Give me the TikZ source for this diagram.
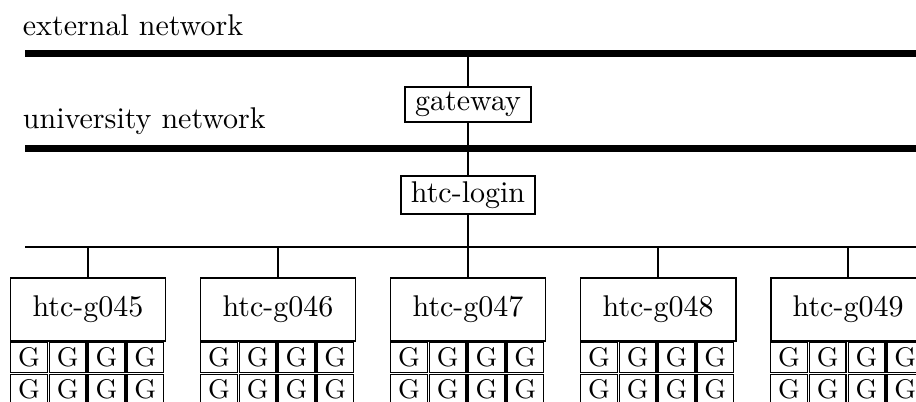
\documentclass[tikz,border=0pt]{standalone}
\usepackage{tikz}
\usetikzlibrary{positioning,calc}

\begin{document}
\begin{tikzpicture}[line width=0.6pt,
    netlabel/.style={anchor=base west, inner sep=0pt},
    backbone/.style={line width=0.8mm},
    host/.style={draw, rectangle, inner ysep=1.8pt},
    computenode/.style={draw, rectangle, minimum width=1.816cm, minimum height=0.738cm},
    gpu/.style={draw, rectangle, line width=0.5pt, inner sep=0pt, minimum width=0.43cm, minimum height=0.35cm, font=\small}
  ]
    \useasboundingbox (0,0) rectangle (10.73,4.70);
    \clip (0,0) rectangle (10.73,4.70);

    % Networks
    \node[netlabel] (extlabel) at (0.258,4.288) {external network};
    \node[netlabel] (unilabel) at (0.258,3.192) {university network};
    \coordinate (extL) at (0.293,4.071);
    \coordinate (uniL) at (0.293,2.964);
    \coordinate (busL) at (0.293,1.810);
    \draw[backbone] (extL) -- ++(11,0);
    \draw[backbone] (uniL) -- ++(11,0);
    \draw (busL) -- ++(11,0);

    % Hosts
    \node[host] (gateway) at (5.483,3.474) {gateway};
    \node[host] (login) at (5.483,2.413) {htc-login};

    % Compute nodes with GPUs
    \foreach \n [count=\i from 0] in {045,046,047,048,049} {
        \node[computenode] (htc\n) at ({1.031+2.226*\i},1.078) {htc-g\n};
        \foreach \r in {0,1}
            \foreach \c in {0,...,3}
                \node[gpu] (gpu\n-\r\c) at ($(htc\n.south west)+({0.227+0.454*\c},{-0.1875-0.375*\r})$) {G};
        \draw (htc\n.north) -- (htc\n.north |- busL);
    }

    % Links
    \draw (gateway.north) -- (gateway.north |- extL);
    \draw (gateway.south) -- (gateway.south |- uniL);
    \draw (login.north) -- (login.north |- uniL);
    \draw (login.south) -- (login.south |- busL);
\end{tikzpicture}
\end{document}
